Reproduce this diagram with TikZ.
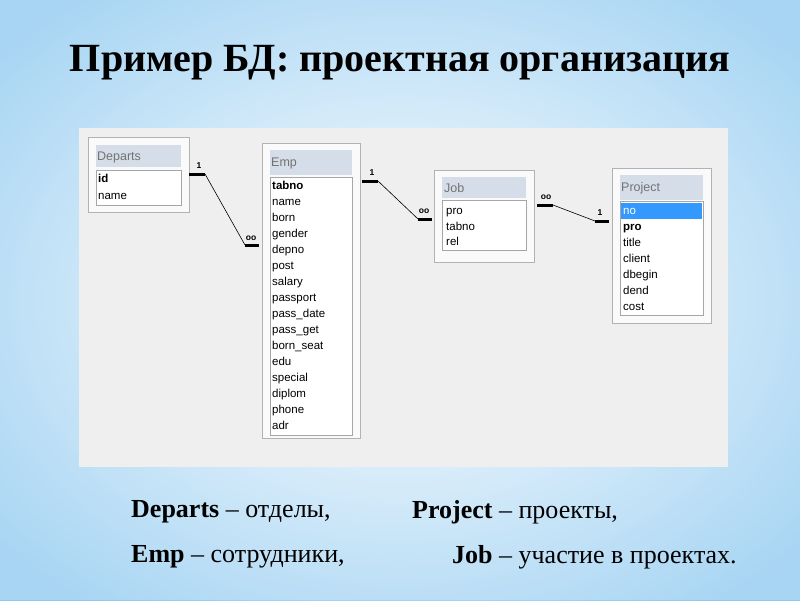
\documentclass[tikz,border=0pt]{standalone}
\usepackage{fontspec}
\setmainfont{Liberation Serif}
\newfontfamily\uifont{Liberation Sans}
\definecolor{tbarc}{RGB}{213,222,232}
\definecolor{panelc}{RGB}{239,239,239}
\definecolor{selc}{RGB}{51,153,255}
\definecolor{bgc}{RGB}{140,200,240}
\begin{document}
\begin{tikzpicture}[x=1pt,y=-1pt,
 win/.style={fill=white!96!gray,draw=gray!60},
 tbar/.style={fill=tbarc},
 lbox/.style={fill=white,draw=gray!70},
 fld/.style={anchor=west,inner sep=0pt,text height=8pt,text depth=2.5pt,font=\uifont\fontsize{11.5}{12}\selectfont},
 bfld/.style={fld,font=\uifont\bfseries\fontsize{11.5}{12}\selectfont},
 ttl/.style={anchor=west,inner sep=0pt,font=\uifont\fontsize{12.5}{13}\selectfont,text=gray!90!black},
 stub/.style={line width=3pt},
 rel/.style={line width=0.6pt},
 card/.style={font=\uifont\bfseries\fontsize{8.5}{8.5}\selectfont,inner sep=0pt}]
\useasboundingbox (0,0) rectangle (800,600);
\shade[inner color=white,outer color=bgc] (-120,-80) rectangle (920,680);
\fill[white,opacity=0.25] (0,0) rectangle (800,600);
\node[font=\bfseries\fontsize{40}{44}\selectfont] (title) at (400,63) {Пример БД: проектная организация};
\fill[panelc] (79,128) rectangle (728,467);
% Departs
\draw[win] (88,137) rectangle (189,212);
\fill[tbar] (96,145) rectangle (181,167);
\node[ttl] (dt) at (97,157) {Departs};
\draw[lbox] (96,170) rectangle (181,205);
\node[bfld] (d1) at (98,180) {id};
\node[fld] (d2) at (98,197) {name};
\coordinate (dA) at (189,174);
% Emp
\draw[win] (262,143) rectangle (360,438);
\fill[tbar] (270,150) rectangle (352,175);
\node[ttl] (et) at (271,163) {Emp};
\draw[lbox] (270,177) rectangle (352,435);
\foreach \t [count=\i from 0] in {tabno,name,born,gender,depno,post,salary,passport,pass\_date,pass\_get,born\_seat,edu,special,diplom,phone,adr}
 {\ifnum\i=0 \node[bfld] (e\i) at (272,187+16*\i) {\t};
  \else \node[fld] (e\i) at (272,187+16*\i) {\t};\fi}
\coordinate (eA) at (259,245);
\coordinate (eB) at (362,181);
% Job
\draw[win] (434,170) rectangle (534,262);
\fill[tbar] (442,177) rectangle (526,198);
\node[ttl] (jt) at (444,188) {Job};
\draw[lbox] (442,200) rectangle (526,250);
\node[fld] (j1) at (446,212) {pro};
\node[fld] (j2) at (446,228) {tabno};
\node[fld] (j3) at (446,243) {rel};
\coordinate (jA) at (432,219);
\coordinate (jB) at (537,205);
% Project
\draw[win] (612,168) rectangle (711,323);
\fill[tbar] (620,175) rectangle (703,200);
\node[ttl] (pt) at (621,188) {Project};
\draw[lbox] (620,201) rectangle (703,315);
\fill[selc] (621,203) rectangle (702,219);
\node[fld,text=white] (p0) at (623,212) {no};
\foreach \t [count=\i] in {pro,title,client,dbegin,dend,cost}
 {\ifnum\i=1 \node[bfld] (p\i) at (623,212+16*\i) {\t};
  \else \node[fld] (p\i) at (623,212+16*\i) {\t};\fi}
\coordinate (pA) at (609,221);
% relations
\draw[stub] (dA) -- ++(16,0) coordinate (dA2);
\draw[stub] (eA) -- ++(-14,0) coordinate (eA2);
\draw[rel] (dA2) -- (eA2);
\node[card] (c1) at (199,166) {1};
\node[card] (c2) at (251,238) {oo};
\draw[stub] (eB) -- ++(16,0) coordinate (eB2);
\draw[stub] (jA) -- ++(-14,0) coordinate (jA2);
\draw[rel] (eB2) -- (jA2);
\node[card] (c3) at (372,173) {1};
\node[card] (c4) at (424,211) {oo};
\draw[stub] (jB) -- ++(16,0) coordinate (jB2);
\draw[stub] (pA) -- ++(-14,0) coordinate (pA2);
\draw[rel] (jB2) -- (pA2);
\node[card] (c5) at (546,197) {oo};
\node[card] (c6) at (600,213) {1};
% legend
\begin{scope}[every node/.style={anchor=west,inner sep=0pt,font=\fontsize{26}{28}\selectfont}]
\node (l1) at (131,512) {\textbf{Departs} – отделы,};
\node (l2) at (412,512) {\textbf{Project} – проекты,};
\node (l3) at (131,557) {\textbf{Emp} – сотрудники,};
\node (l4) at (452,557) {\textbf{Job} – участие в проектах.};
\end{scope}
\end{tikzpicture}
\end{document}
